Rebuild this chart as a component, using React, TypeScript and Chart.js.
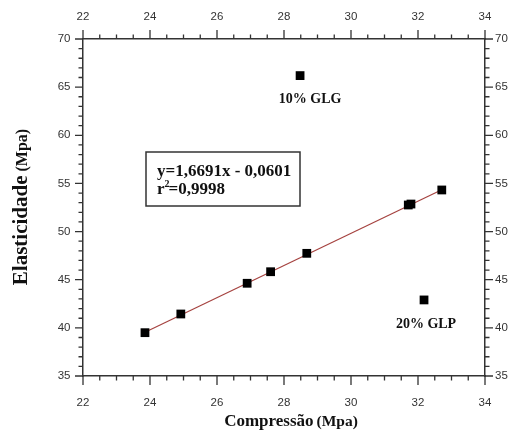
import { useEffect, useRef } from 'react';
import { Chart, registerables } from 'chart.js';

Chart.register(...registerables);

// ---- data ----
const compressao = [23.85, 24.92, 26.9, 27.6, 28.68, 31.71, 31.79, 32.71];
const elasticidade = [39.5, 41.44, 44.63, 45.83, 47.74, 52.76, 52.86, 54.32];
const outlierLabels = ['10% GLG', '20% GLP'];
const outlierCompressao = [28.48, 32.18];
const outlierElasticidade = [66.2, 42.9];
const fitCompressao = [23.85, 32.71];
const fitElasticidade = [39.55, 54.35];
const equationLines = ['y=1,6691x - 0,0601', 'r', '2', '=0,9998'];
const xRange = [22, 34];
const xMajorStep = 2;
const xMinorStep = 0.5;
const yRange = [35, 70];
const yMajorStep = 5;
const yMinorStep = 1;
const xTitle = ['Compressão', '(Mpa)'];
const yTitle = ['Elasticidade', '(Mpa)'];

const AXIS = '#333333';
const SERIF = "'Liberation Serif', 'Times New Roman', serif";
const SANS = "'Liberation Sans', Arial, sans-serif";

const tickFont = { family: SANS, size: 11.5 };

const decorPlugin = {
  id: 'decor',
  afterDraw(chart: any) {
    const ctx = chart.ctx as CanvasRenderingContext2D;
    const { left, right, top, bottom } = chart.chartArea;
    const xs = chart.scales.x;
    const ys = chart.scales.y;
    ctx.save();
    ctx.strokeStyle = AXIS;
    ctx.lineWidth = 1.3;
    // x ticks (top and bottom)
    const nx = Math.round((xRange[1] - xRange[0]) / xMinorStep);
    const xm = Math.round(xMajorStep / xMinorStep);
    ctx.beginPath();
    for (let i = 0; i <= nx; i++) {
      const v = xRange[0] + i * xMinorStep;
      const px = xs.getPixelForValue(v);
      const len = i % xm === 0 ? 9 : 4.5;
      ctx.moveTo(px, bottom);
      ctx.lineTo(px, bottom + len);
      ctx.moveTo(px, top);
      ctx.lineTo(px, top - len);
    }
    const ny = Math.round((yRange[1] - yRange[0]) / yMinorStep);
    const ym = Math.round(yMajorStep / yMinorStep);
    for (let i = 0; i <= ny; i++) {
      const v = yRange[0] + i * yMinorStep;
      const py = ys.getPixelForValue(v);
      const len = i % ym === 0 ? 8 : 4.5;
      ctx.moveTo(left, py);
      ctx.lineTo(left - len, py);
      ctx.moveTo(right, py);
      ctx.lineTo(right + len, py);
    }
    ctx.stroke();

    // axis titles
    ctx.fillStyle = '#111';
    ctx.textBaseline = 'alphabetic';
    ctx.textAlign = 'left';
    // x title
    const f1 = `bold 17px ${SERIF}`;
    const f2 = `bold 15.5px ${SERIF}`;
    ctx.font = f1;
    const w1 = ctx.measureText(xTitle[0]).width;
    ctx.font = f2;
    const w2 = ctx.measureText(xTitle[1]).width;
    const gap = 3;
    const cx = (left + right) / 2 + 7;
    let sx = cx - (w1 + gap + w2) / 2;
    ctx.font = f1;
    ctx.fillText(xTitle[0], sx, 426);
    ctx.font = f2;
    ctx.fillText(xTitle[1], sx + w1 + gap, 426);
    // y title
    const g1 = `bold 21px ${SERIF}`;
    const g2 = `bold 16px ${SERIF}`;
    ctx.font = g1;
    const v1 = ctx.measureText(yTitle[0]).width;
    ctx.font = g2;
    const v2 = ctx.measureText(yTitle[1]).width;
    const cy = 207;
    ctx.save();
    ctx.translate(27, cy + (v1 + 4 + v2) / 2);
    ctx.rotate(-Math.PI / 2);
    ctx.font = g1;
    ctx.fillText(yTitle[0], 0, 0);
    ctx.font = g2;
    ctx.fillText(yTitle[1], v1 + 4, 0);
    ctx.restore();

    // outlier labels
    ctx.font = `bold 14px ${SERIF}`;
    ctx.textAlign = 'center';
    const offsets = [[10, 27], [2, 28]];
    outlierLabels.forEach((lab, i) => {
      const px = xs.getPixelForValue(outlierCompressao[i]);
      const py = ys.getPixelForValue(outlierElasticidade[i]);
      ctx.fillText(lab, px + offsets[i][0], py + offsets[i][1]);
    });

    // equation box
    const bx = left + 63;
    const by = top + 113;
    const bw = 154;
    const bh = 54;
    ctx.fillStyle = '#ffffff';
    ctx.fillRect(bx, by, bw, bh);
    ctx.strokeStyle = '#333';
    ctx.lineWidth = 1.5;
    ctx.strokeRect(bx, by, bw, bh);
    ctx.fillStyle = '#111';
    ctx.textAlign = 'left';
    ctx.font = `bold 17px ${SERIF}`;
    ctx.fillText(equationLines[0], bx + 11, by + 24);
    const tx = bx + 11;
    const ty = by + 42;
    ctx.fillText(equationLines[1], tx, ty);
    const rw = ctx.measureText(equationLines[1]).width;
    ctx.font = `bold 10px ${SERIF}`;
    ctx.fillText(equationLines[2], tx + rw, ty - 7);
    const sw = ctx.measureText(equationLines[2]).width;
    ctx.font = `bold 17px ${SERIF}`;
    ctx.fillText(equationLines[3], tx + rw + sw - 1, ty);
    ctx.restore();
  },
};

function makeX(position: 'top' | 'bottom', padding: number, height: number) {
  return {
    type: 'linear',
    position,
    min: xRange[0],
    max: xRange[1],
    ticks: { stepSize: xMajorStep, padding, color: '#333', font: tickFont },
    grid: { display: false, drawTicks: false },
    border: { display: true, color: AXIS, width: 1.5 },
    afterFit: (s: any) => {
      s.height = height;
    },
  };
}

function makeY(position: 'left' | 'right', padding: number, width: number) {
  return {
    type: 'linear',
    position,
    min: yRange[0],
    max: yRange[1],
    ticks: { stepSize: yMajorStep, padding, color: '#333', font: tickFont },
    grid: { display: false, drawTicks: false },
    border: { display: true, color: AXIS, width: 1.5 },
    afterFit: (s: any) => {
      s.width = width;
    },
  };
}

export default function App() {
  const ref = useRef<HTMLCanvasElement | null>(null);
  useEffect(() => {
    if (!ref.current) return;
    const chart = new Chart(ref.current, {
      type: 'scatter',
      data: {
        datasets: [
          {
            type: 'line',
            data: fitCompressao.map((x, i) => ({ x, y: fitElasticidade[i] })),
            borderColor: '#a5423f',
            borderWidth: 1.2,
            pointRadius: 0,
            fill: false,
            order: 3,
            xAxisID: 'x',
            yAxisID: 'y',
          } as any,
          {
            data: compressao.map((x, i) => ({ x, y: elasticidade[i] })),
            pointStyle: 'rect',
            pointRadius: 6.2,
            backgroundColor: '#000',
            borderWidth: 0,
            order: 1,
            xAxisID: 'x',
            yAxisID: 'y',
          },
          {
            data: outlierCompressao.map((x, i) => ({ x, y: outlierElasticidade[i] })),
            pointStyle: 'rect',
            pointRadius: 6.2,
            backgroundColor: '#000',
            borderWidth: 0,
            order: 1,
            xAxisID: 'x',
            yAxisID: 'y',
          },
        ],
      },
      options: {
        responsive: false,
        animation: false,
        devicePixelRatio: 1,
        layout: { padding: 0 },
        plugins: { legend: { display: false }, tooltip: { enabled: false } },
        scales: {
          x: makeX('bottom', 20, 56),
          x2: makeX('top', 15, 39),
          y: makeY('left', 12.5, 83),
          y2: makeY('right', 10, 28),
        } as any,
      },
      plugins: [decorPlugin],
    });
    return () => chart.destroy();
  }, []);
  return (
    <div style={{ position: 'absolute', left: 0, top: 0, width: 513, height: 432, background: '#fff' }}>
      <canvas ref={ref} width={513} height={432} style={{ display: 'block' }} />
    </div>
  );
}
